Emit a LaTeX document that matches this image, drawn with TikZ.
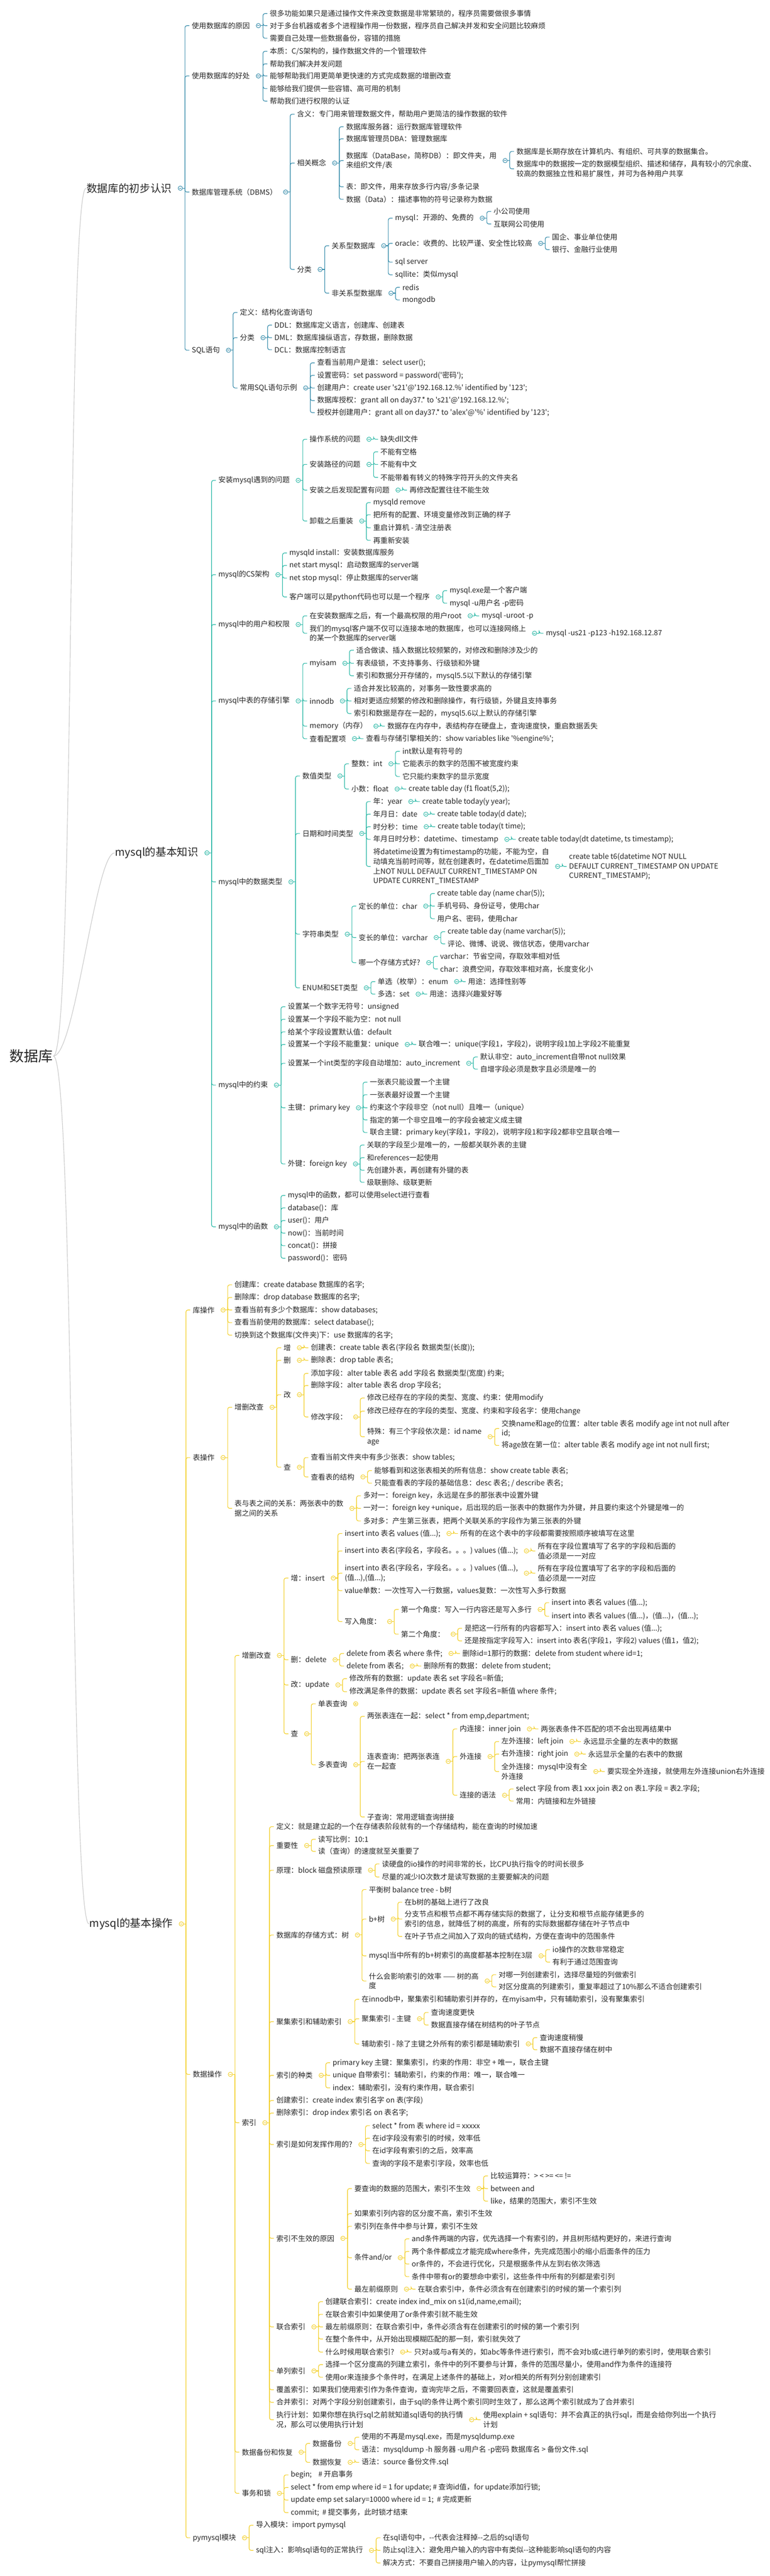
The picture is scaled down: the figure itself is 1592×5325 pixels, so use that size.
\documentclass[tikz,border=0pt]{standalone}
\usepackage{fontspec}
\newfontfamily\zh{Noto Sans CJK SC}
\usetikzlibrary{positioning}

\definecolor{secA}{HTML}{2C86A6}
\definecolor{secB}{HTML}{23B5A3}
\definecolor{secC}{HTML}{F2CD1F}
\definecolor{rootline}{HTML}{C9C9C9}
\definecolor{ink}{HTML}{262626}

\tikzset{
  kid/.style={anchor=west, inner sep=1pt, align=left, text=ink, font={\zh\fontsize{15pt}{20pt}\selectfont}},
  topic/.style={kid, font={\zh\fontsize{22pt}{26pt}\selectfont}},
  hub/.style={kid, font={\zh\fontsize{30pt}{34pt}\selectfont}},
  rootcurve/.style={rootline, line width=1.2pt},
}

% bracket from a parent to its children, with the collapse knob
\newcommand{\fork}[3]{%
  \foreach \k in {#3}{\draw[#1, line width=1.2pt, rounded corners=4pt] ([xshift=26pt]#2.east) |- ([xshift=-4pt]\k.west);}
  \draw[#1, line width=1.2pt] ([xshift=21pt]#2.east) -- ([xshift=26pt]#2.east);
  \draw[#1, line width=1pt, fill=white] ([xshift=16.5pt]#2.east) circle (4.5pt);
  \draw[#1, line width=1pt] ([xshift=14pt]#2.east) -- ([xshift=19pt]#2.east);
}
% collapsed knob
\newcommand{\shut}[2]{%
  \draw[#1, line width=1pt, fill=white] ([xshift=16.5pt]#2.east) circle (4.5pt);
  \draw[#1, line width=1pt] ([xshift=14pt]#2.east) -- ([xshift=19pt]#2.east);
  \draw[#1, line width=1pt] ([xshift=16.5pt,yshift=-2.5pt]#2.east) -- ([xshift=16.5pt,yshift=2.5pt]#2.east);
}

\begin{document}
\begin{tikzpicture}[x=1pt, y=-1pt]
\useasboundingbox (0,0) rectangle (1592,5325);

% root and main branches
\node[hub] (db) at (18,2183) {数据库};
\node[topic] (A) at (178,389) {数据库的初步认识};
\node[topic] (B) at (237,1763) {mysql的基本知识};
\node[topic] (C) at (184,3977) {mysql的基本操作};
\draw[rootcurve] (db.east) .. controls +(45,0) and +(-40,0) .. (A.west);
\draw[rootcurve] (db.east) .. controls +(45,0) and +(-40,0) .. (B.west);
\draw[rootcurve] (db.east) .. controls +(45,0) and +(-40,0) .. (C.west);

% ---------------- 数据库的初步认识
\node[kid, right=39pt of A, yshift=336pt] (a1) {使用数据库的原因};
\node[kid, right=39pt of a1, yshift=25pt] (a11) {很多功能如果只是通过操作文件来改变数据是非常繁琐的，程序员需要做很多事情};
\node[kid, right=39pt of a1] (a12) {对于多台机器或者多个进程操作用一份数据，程序员自己解决并发和安全问题比较麻烦};
\node[kid, right=39pt of a1, yshift=-26pt] (a13) {需要自己处理一些数据备份，容错的措施};
\node[kid, right=39pt of A, yshift=232pt] (a2) {使用数据库的好处};
\node[kid, right=39pt of a2, yshift=51pt] (a21) {本质：C/S架构的，操作数据文件的一个管理软件};
\node[kid, right=39pt of a2, yshift=25pt] (a22) {帮助我们解决并发问题};
\node[kid, right=39pt of a2] (a23) {能够帮助我们用更简单更快速的方式完成数据的增删改查};
\node[kid, right=39pt of a2, yshift=-26pt] (a24) {能够给我们提供一些容错、高可用的机制};
\node[kid, right=39pt of a2, yshift=-52pt] (a25) {帮助我们进行权限的认证};
\node[kid, right=39pt of A, yshift=-8pt] (a3) {数据库管理系统（DBMS）};
\node[kid, right=39pt of a3, yshift=161pt] (a31) {含义：专门用来管理数据文件，帮助用户更简洁的操作数据的软件};
\node[kid, right=39pt of a3, yshift=60pt] (a32) {相关概念};
\node[kid, right=39pt of a32, yshift=75pt] (a321) {数据库服务器：运行数据库管理软件};
\node[kid, right=39pt of a32, yshift=50pt] (a322) {数据库管理员DBA：管理数据库};
\node[kid, right=39pt of a32, yshift=5pt] (a323) {数据库（DataBase，简称DB）：即文件夹，用\\来组织文件/表};
\node[kid, right=39pt of a323, yshift=19pt] (a3231) {数据库是长期存放在计算机内、有组织、可共享的数据集合。};
\node[kid, right=39pt of a323, yshift=-17pt] (a3232) {数据库中的数据按一定的数据模型组织、描述和储存，具有较小的冗余度、\\较高的数据独立性和易扩展性，并可为各种用户共享};
\node[kid, right=39pt of a32, yshift=-49pt] (a324) {表：即文件，用来存放多行内容/多条记录};
\node[kid, right=39pt of a32, yshift=-75pt] (a325) {数据（Data）：描述事物的符号记录称为数据};
\node[kid, right=39pt of a3, yshift=-160pt] (a33) {分类};
\node[kid, right=39pt of a33, yshift=49pt] (a331) {关系型数据库};
\node[kid, right=39pt of a331, yshift=57pt] (a3311) {mysql：开源的、免费的};
\node[kid, right=39pt of a3311, yshift=14pt] (a33111) {小公司使用};
\node[kid, right=39pt of a3311, yshift=-12pt] (a33112) {互联网公司使用};
\node[kid, right=39pt of a331, yshift=5pt] (a3312) {oracle：收费的、比较严谨、安全性比较高};
\node[kid, right=39pt of a3312, yshift=13pt] (a33121) {国企、事业单位使用};
\node[kid, right=39pt of a3312, yshift=-13pt] (a33122) {银行、金融行业使用};
\node[kid, right=39pt of a331, yshift=-34pt] (a3313) {sql server};
\node[kid, right=39pt of a331, yshift=-60pt] (a3314) {sqllite：类似mysql};
\node[kid, right=39pt of a33, yshift=-49pt] (a332) {非关系型数据库};
\node[kid, right=39pt of a332, yshift=12pt] (a3321) {redis};
\node[kid, right=39pt of a332, yshift=-14pt] (a3322) {mongodb};
\node[kid, right=39pt of A, yshift=-335pt] (a4) {SQL语句};
\node[kid, right=39pt of a4, yshift=78pt] (a41) {定义：结构化查询语句};
\node[kid, right=39pt of a4, yshift=26pt] (a42) {分类};
\node[kid, right=39pt of a42, yshift=26pt] (a421) {DDL：数据库定义语言，创建库、创建表};
\node[kid, right=39pt of a42] (a422) {DML：数据库操纵语言，存数据，删除数据};
\node[kid, right=39pt of a42, yshift=-25pt] (a423) {DCL：数据库控制语言};
\node[kid, right=39pt of a4, yshift=-78pt] (a43) {常用SQL语句示例};
\node[kid, right=39pt of a43, yshift=52pt] (a431) {查看当前用户是谁：select user();};
\node[kid, right=39pt of a43, yshift=26pt] (a432) {设置密码：set password = password('密码');};
\node[kid, right=39pt of a43] (a433) {创建用户：create user 's21'@'192.168.12.\%' identified by '123';};
\node[kid, right=39pt of a43, yshift=-26pt] (a434) {数据库授权：grant all on day37.* to 's21'@'192.168.12.\%';};
\node[kid, right=39pt of a43, yshift=-51pt] (a435) {授权并创建用户：grant all on day37.* to 'alex'@'\%' identified by '123';};

\fork{secA}{A}{a1,a2,a3,a4}
\fork{secA}{a1}{a11,a12,a13}
\fork{secA}{a2}{a21,a22,a23,a24,a25}
\fork{secA}{a3}{a31,a32,a33}
\fork{secA}{a32}{a321,a322,a323,a324,a325}
\fork{secA}{a323}{a3231,a3232}
\fork{secA}{a33}{a331,a332}
\fork{secA}{a331}{a3311,a3312,a3313,a3314}
\fork{secA}{a3311}{a33111,a33112}
\fork{secA}{a3312}{a33121,a33122}
\fork{secA}{a332}{a3321,a3322}
\fork{secA}{a4}{a41,a42,a43}
\fork{secA}{a42}{a421,a422,a423}
\fork{secA}{a43}{a431,a432,a433,a434,a435}

% ---------------- mysql的基本知识
\node[kid, right=39pt of B, yshift=770pt] (b1) {安装mysql遇到的问题};
\node[kid, right=39pt of b1, yshift=85pt] (b11) {操作系统的问题};
\node[kid, right=39pt of b11] (b111) {缺失dll文件};
\node[kid, right=39pt of b1, yshift=33pt] (b12) {安装路径的问题};
\node[kid, right=39pt of b12, yshift=26pt] (b121) {不能有空格};
\node[kid, right=39pt of b12] (b122) {不能有中文};
\node[kid, right=39pt of b12, yshift=-27pt] (b123) {不能带着有转义的特殊字符开头的文件夹名};
\node[kid, right=39pt of b1, yshift=-20pt] (b13) {安装之后发现配置有问题};
\node[kid, right=39pt of b13] (b131) {再修改配置往往不能生效};
\node[kid, right=39pt of b1, yshift=-84pt] (b14) {卸载之后重装};
\node[kid, right=39pt of b14, yshift=38pt] (b141) {mysqld remove};
\node[kid, right=39pt of b14, yshift=13pt] (b142) {把所有的配置、环境变量修改到正确的样子};
\node[kid, right=39pt of b14, yshift=-14pt] (b143) {重启计算机 - 清空注册表};
\node[kid, right=39pt of b14, yshift=-40pt] (b144) {再重新安装};
\node[kid, right=39pt of B, yshift=575pt] (b2) {mysql的CS架构};
\node[kid, right=39pt of b2, yshift=45pt] (b21) {mysqld install：安装数据库服务};
\node[kid, right=39pt of b2, yshift=19pt] (b22) {net start mysql：启动数据库的server端};
\node[kid, right=39pt of b2, yshift=-7pt] (b23) {net stop mysql：停止数据库的server端};
\node[kid, right=39pt of b2, yshift=-46pt] (b24) {客户端可以是python代码也可以是一个程序};
\node[kid, right=39pt of b24, yshift=13pt] (b241) {mysql.exe是一个客户端};
\node[kid, right=39pt of b24, yshift=-13pt] (b242) {mysql -u用户名 -p密码};
\node[kid, right=39pt of B, yshift=472pt] (b3) {mysql中的用户和权限};
\node[kid, right=39pt of b3, yshift=18pt] (b31) {在安装数据库之后，有一个最高权限的用户root};
\node[kid, right=39pt of b31] (b311) {mysql -uroot -p};
\node[kid, right=39pt of b3, yshift=-18pt] (b32) {我们的mysql客户端不仅可以连接本地的数据库，也可以连接网络上\\的某一个数据库的server端};
\node[kid, right=39pt of b32] (b321) {mysql -us21 -p123 -h192.168.12.87};
\node[kid, right=39pt of B, yshift=314pt] (b4) {mysql中表的存储引擎};
\node[kid, right=39pt of b4, yshift=78pt] (b41) {myisam};
\node[kid, right=39pt of b41, yshift=27pt] (b411) {适合做读、插入数据比较频繁的，对修改和删除涉及少的};
\node[kid, right=39pt of b41] (b412) {有表级锁，不支持事务、行级锁和外键};
\node[kid, right=39pt of b41, yshift=-26pt] (b413) {索引和数据分开存储的，mysql5.5以下默认的存储引擎};
\node[kid, right=39pt of b4] (b42) {innodb};
\node[kid, right=39pt of b42, yshift=26pt] (b421) {适合并发比较高的，对事务一致性要求高的};
\node[kid, right=39pt of b42] (b422) {相对更适应频繁的修改和删除操作，有行级锁，外键且支持事务};
\node[kid, right=39pt of b42, yshift=-26pt] (b423) {索引和数据是存在一起的，mysql5.6以上默认的存储引擎};
\node[kid, right=39pt of b4, yshift=-52pt] (b43) {memory（内存）};
\node[kid, right=39pt of b43] (b431) {数据存在内存中，表结构存在硬盘上，查询速度快，重启数据丢失};
\node[kid, right=39pt of b4, yshift=-78pt] (b44) {查看配置项};
\node[kid, right=39pt of b44] (b441) {查看与存储引擎相关的：show variables like '\%engine\%';};
\node[kid, right=39pt of B, yshift=-60pt] (b5) {mysql中的数据类型};
\node[kid, right=39pt of b5, yshift=219pt] (b51) {数值类型};
\node[kid, right=39pt of b51, yshift=25pt] (b511) {整数：int};
\node[kid, right=39pt of b511, yshift=26pt] (b5111) {int默认是有符号的};
\node[kid, right=39pt of b511] (b5112) {它能表示的数字的范围不被宽度约束};
\node[kid, right=39pt of b511, yshift=-26pt] (b5113) {它只能约束数字的显示宽度};
\node[kid, right=39pt of b51, yshift=-27pt] (b512) {小数：float};
\node[kid, right=39pt of b512] (b5121) {create table day (f1 float(5,2));};
\node[kid, right=39pt of b5, yshift=100pt] (b52) {日期和时间类型};
\node[kid, right=39pt of b52, yshift=66pt] (b521) {年：year};
\node[kid, right=39pt of b521] (b5211) {create table today(y year);};
\node[kid, right=39pt of b52, yshift=40pt] (b522) {年月日：date};
\node[kid, right=39pt of b522] (b5221) {create table today(d date);};
\node[kid, right=39pt of b52, yshift=14pt] (b523) {时分秒：time};
\node[kid, right=39pt of b523] (b5231) {create table today(t time);};
\node[kid, right=39pt of b52, yshift=-12pt] (b524) {年月日时分秒：datetime、timestamp};
\node[kid, right=39pt of b524] (b5241) {create table today(dt datetime, ts timestamp);};
\node[kid, right=39pt of b52, yshift=-68pt] (b525) {将datetime设置为有timestamp的功能，不能为空，自\\动填充当前时间等，就在创建表时，在datetime后面加\\上NOT NULL DEFAULT CURRENT\_TIMESTAMP ON\\UPDATE CURRENT\_TIMESTAMP};
\node[kid, right=39pt of b525] (b5251) {create table t6(datetime NOT NULL\\DEFAULT CURRENT\_TIMESTAMP ON UPDATE\\CURRENT\_TIMESTAMP);};
\node[kid, right=39pt of b5, yshift=-108pt] (b53) {字符串类型};
\node[kid, right=39pt of b53, yshift=58pt] (b531) {定长的单位：char};
\node[kid, right=39pt of b531, yshift=26pt] (b5311) {create table day (name char(5));};
\node[kid, right=39pt of b531] (b5312) {手机号码、身份证号，使用char};
\node[kid, right=39pt of b531, yshift=-26pt] (b5313) {用户名、密码，使用char};
\node[kid, right=39pt of b53, yshift=-7pt] (b532) {变长的单位：varchar};
\node[kid, right=39pt of b532, yshift=12pt] (b5321) {create table day (name varchar(5));};
\node[kid, right=39pt of b532, yshift=-13pt] (b5322) {评论、微博、说说、微信状态，使用varchar};
\node[kid, right=39pt of b53, yshift=-59pt] (b533) {哪一个存储方式好?};
\node[kid, right=39pt of b533, yshift=13pt] (b5331) {varchar：节省空间，存取效率相对低};
\node[kid, right=39pt of b533, yshift=-13pt] (b5332) {char：浪费空间，存取效率相对高，长度变化小};
\node[kid, right=39pt of b5, yshift=-219pt] (b54) {ENUM和SET类型};
\node[kid, right=39pt of b54, yshift=13pt] (b541) {单选（枚举）：enum};
\node[kid, right=39pt of b541] (b5411) {用途：选择性别等};
\node[kid, right=39pt of b54, yshift=-13pt] (b542) {多选：set};
\node[kid, right=39pt of b542] (b5421) {用途：选择兴趣爱好等};
\node[kid, right=39pt of B, yshift=-480pt] (b6) {mysql中的约束};
\node[kid, right=39pt of b6, yshift=162pt] (b61) {设置某一个数字无符号：unsigned};
\node[kid, right=39pt of b6, yshift=136pt] (b62) {设置某一个字段不能为空：not null};
\node[kid, right=39pt of b6, yshift=110pt] (b63) {给某个字段设置默认值：default};
\node[kid, right=39pt of b6, yshift=84pt] (b64) {设置某一个字段不能重复：unique};
\node[kid, right=39pt of b64] (b641) {联合唯一：unique(字段1，字段2)，说明字段1加上字段2不能重复};
\node[kid, right=39pt of b6, yshift=45pt] (b65) {设置某一个int类型的字段自动增加：auto\_increment};
\node[kid, right=39pt of b65, yshift=13pt] (b651) {默认非空：auto\_increment自带not null效果};
\node[kid, right=39pt of b65, yshift=-12pt] (b652) {自增字段必须是数字且必须是唯一的};
\node[kid, right=39pt of b6, yshift=-47pt] (b66) {主键：primary key};
\node[kid, right=39pt of b66, yshift=53pt] (b661) {一张表只能设置一个主键};
\node[kid, right=39pt of b66, yshift=27pt] (b662) {一张表最好设置一个主键};
\node[kid, right=39pt of b66] (b663) {约束这个字段非空（not null）且唯一（unique）};
\node[kid, right=39pt of b66, yshift=-25pt] (b664) {指定的第一个非空且唯一的字段会被定义成主键};
\node[kid, right=39pt of b66, yshift=-51pt] (b665) {联合主键：primary key(字段1，字段2)，说明字段1和字段2都非空且联合唯一};
\node[kid, right=39pt of b6, yshift=-163pt] (b67) {外键：foreign key};
\node[kid, right=39pt of b67, yshift=39pt] (b671) {关联的字段至少是唯一的，一般都关联外表的主键};
\node[kid, right=39pt of b67, yshift=13pt] (b672) {和references一起使用};
\node[kid, right=39pt of b67, yshift=-13pt] (b673) {先创建外表，再创建有外键的表};
\node[kid, right=39pt of b67, yshift=-38pt] (b674) {级联删除、级联更新};
\node[kid, right=39pt of B, yshift=-773pt] (b7) {mysql中的函数};
\node[kid, right=39pt of b7, yshift=65pt] (b71) {mysql中的函数，都可以使用select进行查看};
\node[kid, right=39pt of b7, yshift=39pt] (b72) {database()：库};
\node[kid, right=39pt of b7, yshift=13pt] (b73) {user()：用户};
\node[kid, right=39pt of b7, yshift=-13pt] (b74) {now()：当前时间};
\node[kid, right=39pt of b7, yshift=-39pt] (b75) {concat()：拼接};
\node[kid, right=39pt of b7, yshift=-65pt] (b76) {password()：密码};

\fork{secB}{B}{b1,b2,b3,b4,b5,b6,b7}
\fork{secB}{b1}{b11,b12,b13,b14}
\fork{secB}{b11}{b111}
\fork{secB}{b12}{b121,b122,b123}
\fork{secB}{b13}{b131}
\fork{secB}{b14}{b141,b142,b143,b144}
\fork{secB}{b2}{b21,b22,b23,b24}
\fork{secB}{b24}{b241,b242}
\fork{secB}{b3}{b31,b32}
\fork{secB}{b31}{b311}
\fork{secB}{b32}{b321}
\fork{secB}{b4}{b41,b42,b43,b44}
\fork{secB}{b41}{b411,b412,b413}
\fork{secB}{b42}{b421,b422,b423}
\fork{secB}{b43}{b431}
\fork{secB}{b44}{b441}
\fork{secB}{b5}{b51,b52,b53,b54}
\fork{secB}{b51}{b511,b512}
\fork{secB}{b511}{b5111,b5112,b5113}
\fork{secB}{b512}{b5121}
\fork{secB}{b52}{b521,b522,b523,b524,b525}
\fork{secB}{b521}{b5211}
\fork{secB}{b522}{b5221}
\fork{secB}{b523}{b5231}
\fork{secB}{b524}{b5241}
\fork{secB}{b525}{b5251}
\fork{secB}{b53}{b531,b532,b533}
\fork{secB}{b531}{b5311,b5312,b5313}
\fork{secB}{b532}{b5321,b5322}
\fork{secB}{b533}{b5331,b5332}
\fork{secB}{b54}{b541,b542}
\fork{secB}{b541}{b5411}
\fork{secB}{b542}{b5421}
\fork{secB}{b6}{b61,b62,b63,b64,b65,b66,b67}
\fork{secB}{b64}{b641}
\fork{secB}{b65}{b651,b652}
\fork{secB}{b66}{b661,b662,b663,b664,b665}
\fork{secB}{b67}{b671,b672,b673,b674}
\fork{secB}{b7}{b71,b72,b73,b74,b75,b76}

% ---------------- mysql的基本操作
\node[kid, right=39pt of C, yshift=1269pt] (c1) {库操作};
\node[kid, right=39pt of c1, yshift=52pt] (c11) {创建库：create database 数据库的名字;};
\node[kid, right=39pt of c1, yshift=26pt] (c12) {删除库：drop database 数据库的名字;};
\node[kid, right=39pt of c1] (c13) {查看当前有多少个数据库：show databases;};
\node[kid, right=39pt of c1, yshift=-26pt] (c14) {查看当前使用的数据库：select database();};
\node[kid, right=39pt of c1, yshift=-52pt] (c15) {切换到这个数据库(文件夹)下：use 数据库的名字;};
\node[kid, right=39pt of C, yshift=964pt] (c2) {表操作};
\node[kid, right=39pt of c2, yshift=104pt] (c21) {增删改查};
\node[kid, right=39pt of c21, yshift=123pt] (c211) {增};
\node[kid, right=39pt of c211] (c2111) {创建表：create table 表名(字段名 数据类型(长度));};
\node[kid, right=39pt of c21, yshift=97pt] (c212) {删};
\node[kid, right=39pt of c212] (c2121) {删除表：drop table 表名;};
\node[kid, right=39pt of c21, yshift=26pt] (c213) {改};
\node[kid, right=39pt of c213, yshift=44pt] (c2131) {添加字段：alter table 表名 add 字段名 数据类型(宽度) 约束;};
\node[kid, right=39pt of c213, yshift=19pt] (c2132) {删除字段：alter table 表名 drop 字段名;};
\node[kid, right=39pt of c213, yshift=-46pt] (c2133) {修改字段：};
\node[kid, right=39pt of c2133, yshift=39pt] (c21331) {修改已经存在的字段的类型、宽度、约束：使用modify};
\node[kid, right=39pt of c2133, yshift=12pt] (c21332) {修改已经存在的字段的类型、宽度、约束和字段名字：使用change};
\node[kid, right=39pt of c2133, yshift=-41pt] (c21333) {特殊：有三个字段依次是：id name\\age};
\node[kid, right=39pt of c21333, yshift=17pt] (c213331) {交换name和age的位置：alter table 表名 modify age int not null after\\id;};
\node[kid, right=39pt of c21333, yshift=-18pt] (c213332) {将age放在第一位：alter table 表名 modify age int not null first;};
\node[kid, right=39pt of c21, yshift=-124pt] (c214) {查};
\node[kid, right=39pt of c214, yshift=20pt] (c2141) {查看当前文件夹中有多少张表：show tables;};
\node[kid, right=39pt of c214, yshift=-20pt] (c2142) {查看表的结构};
\node[kid, right=39pt of c2142, yshift=13pt] (c21421) {能够看到和这张表相关的所有信息：show create table 表名;};
\node[kid, right=39pt of c2142, yshift=-13pt] (c21422) {只能查看表的字段的基础信息：desc 表名; / describe 表名;};
\node[kid, right=39pt of c2, yshift=-105pt] (c22) {表与表之间的关系：两张表中的数\\据之间的关系};
\node[kid, right=39pt of c22, yshift=26pt] (c221) {多对一：foreign key，永远是在多的那张表中设置外键};
\node[kid, right=39pt of c22] (c222) {一对一：foreign key +unique，后出现的后一张表中的数据作为外键，并且要约束这个外键是唯一的};
\node[kid, right=39pt of c22, yshift=-26pt] (c223) {多对多：产生第三张表，把两个关联关系的字段作为第三张表的外键};
\node[kid, right=39pt of C, yshift=-311pt] (c3) {数据操作};
\node[kid, right=39pt of c3, yshift=866pt] (c31) {增删改查};
\node[kid, right=39pt of c31, yshift=160pt] (c311) {增：insert};
\node[kid, right=39pt of c311, yshift=92pt] (c3111) {insert into 表名 values (值...);};
\node[kid, right=39pt of c3111] (c31111) {所有的在这个表中的字段都需要按照顺序被填写在这里};
\node[kid, right=39pt of c311, yshift=56pt] (c3112) {insert into 表名(字段名，字段名。。。) values (值...);};
\node[kid, right=39pt of c3112] (c31121) {所有在字段位置填写了名字的字段和后面的\\值必须是一一对应};
\node[kid, right=39pt of c311, yshift=10pt] (c3113) {insert into 表名(字段名，字段名。。。) values (值...),\\(值...),(值...);};
\node[kid, right=39pt of c3113] (c31131) {所有在字段位置填写了名字的字段和后面的\\值必须是一一对应};
\node[kid, right=39pt of c311, yshift=-26pt] (c3114) {value单数：一次性写入一行数据，values复数：一次性写入多行数据};
\node[kid, right=39pt of c311, yshift=-90pt] (c3115) {写入角度：};
\node[kid, right=39pt of c3115, yshift=25pt] (c31151) {第一个角度：写入一行内容还是写入多行};
\node[kid, right=39pt of c31151, yshift=14pt] (c311511) {insert into 表名 values (值...);};
\node[kid, right=39pt of c31151, yshift=-14pt] (c311512) {insert into 表名 values (值...)，(值...)，(值...);};
\node[kid, right=39pt of c3115, yshift=-26pt] (c31152) {第二个角度：};
\node[kid, right=39pt of c31152, yshift=12pt] (c311521) {是把这一行所有的内容都写入：insert into 表名 values (值...);};
\node[kid, right=39pt of c31152, yshift=-14pt] (c311522) {还是按指定字段写入：insert into 表名(字段1，字段2) values (值1，值2);};
\node[kid, right=39pt of c31, yshift=-9pt] (c312) {删：delete};
\node[kid, right=39pt of c312, yshift=13pt] (c3121) {delete from 表名 where 条件;};
\node[kid, right=39pt of c3121] (c31211) {删除id=1那行的数据：delete from student where id=1;};
\node[kid, right=39pt of c312, yshift=-13pt] (c3122) {delete from 表名;};
\node[kid, right=39pt of c3122] (c31221) {删除所有的数据：delete from student;};
\node[kid, right=39pt of c31, yshift=-61pt] (c313) {改：update};
\node[kid, right=39pt of c313, yshift=13pt] (c3131) {修改所有的数据：update 表名 set 字段名=新值;};
\node[kid, right=39pt of c313, yshift=-14pt] (c3132) {修改满足条件的数据：update 表名 set 字段名=新值 where 条件;};
\node[kid, right=39pt of c31, yshift=-162pt] (c314) {查};
\node[kid, right=39pt of c314, yshift=62pt] (c3141) {单表查询};
\node[kid, right=39pt of c314, yshift=-64pt] (c3142) {多表查询};
\node[kid, right=39pt of c3142, yshift=100pt] (c31421) {两张表连在一起：select * from emp,department;};
\node[kid, right=39pt of c3142, yshift=7pt] (c31422) {连表查询：把两张表连\\在一起查};
\node[kid, right=39pt of c31422, yshift=67pt] (c314221) {内连接：inner join};
\node[kid, right=39pt of c314221] (c3142211) {两张表条件不匹配的项不会出现再结果中};
\node[kid, right=39pt of c31422, yshift=10pt] (c314222) {外连接};
\node[kid, right=39pt of c314222, yshift=31pt] (c3142221) {左外连接：left join};
\node[kid, right=39pt of c3142221] (c31422211) {永远显示全量的左表中的数据};
\node[kid, right=39pt of c314222, yshift=5pt] (c3142222) {右外连接：right join};
\node[kid, right=39pt of c3142222] (c31422221) {永远显示全量的右表中的数据};
\node[kid, right=39pt of c314222, yshift=-31pt] (c3142223) {全外连接：mysql中没有全\\外连接};
\node[kid, right=39pt of c3142223] (c31422231) {要实现全外连接，就使用左外连接union右外连接};
\node[kid, right=39pt of c31422, yshift=-70pt] (c314223) {连接的语法};
\node[kid, right=39pt of c314223, yshift=13pt] (c3142231) {select 字段 from 表1 xxx join 表2 on 表1.字段 = 表2.字段;};
\node[kid, right=39pt of c314223, yshift=-12pt] (c3142232) {常用：内链接和左外链接};
\node[kid, right=39pt of c3142, yshift=-108pt] (c31423) {子查询：常用逻辑查询拼接};
\node[kid, right=39pt of c3, yshift=-100pt] (c32) {索引};
\node[kid, right=39pt of c32, yshift=612pt] (c321) {定义：就是建立起的一个在存储表阶段就有的一个存储结构，能在查询的时候加速};
\node[kid, right=39pt of c32, yshift=573pt] (c322) {重要性};
\node[kid, right=39pt of c322, yshift=13pt] (c3221) {读写比例：10:1};
\node[kid, right=39pt of c322, yshift=-12pt] (c3222) {读（查询）的速度就至关重要了};
\node[kid, right=39pt of c32, yshift=522pt] (c323) {原理：block 磁盘预读原理};
\node[kid, right=39pt of c323, yshift=13pt] (c3231) {读硬盘的io操作的时间非常的长，比CPU执行指令的时间长很多};
\node[kid, right=39pt of c323, yshift=-14pt] (c3232) {尽量的减少IO次数才是读写数据的主要要解决的问题};
\node[kid, right=39pt of c32, yshift=388pt] (c324) {数据库的存储方式：树};
\node[kid, right=39pt of c324, yshift=94pt] (c3241) {平衡树 balance tree - b树};
\node[kid, right=39pt of c324, yshift=33pt] (c3242) {b+树};
\node[kid, right=39pt of c3242, yshift=35pt] (c32421) {在b树的基础上进行了改良};
\node[kid, right=39pt of c3242] (c32422) {分支节点和根节点都不再存储实际的数据了，让分支和根节点能存储更多的\\索引的信息，就降低了树的高度，所有的实际数据都存储在叶子节点中};
\node[kid, right=39pt of c3242, yshift=-36pt] (c32423) {在叶子节点之间加入了双向的链式结构，方便在查询中的范围条件};
\node[kid, right=39pt of c324, yshift=-43pt] (c3243) {mysql当中所有的b+树索引的高度都基本控制在3层};
\node[kid, right=39pt of c3243, yshift=13pt] (c32431) {io操作的次数非常稳定};
\node[kid, right=39pt of c3243, yshift=-13pt] (c32432) {有利于通过范围查询};
\node[kid, right=39pt of c324, yshift=-95pt] (c3244) {什么会影响索引的效率 —— 树的高\\度};
\node[kid, right=39pt of c3244, yshift=13pt] (c32441) {对哪一列创建索引，选择尽量短的列做索引};
\node[kid, right=39pt of c3244, yshift=-12pt] (c32442) {对区分度高的列建索引，重复率超过了10\%那么不适合创建索引};
\node[kid, right=39pt of c32, yshift=209pt] (c325) {聚集索引和辅助索引};
\node[kid, right=39pt of c325, yshift=46pt] (c3251) {在innodb中，聚集索引和辅助索引并存的，在myisam中，只有辅助索引，没有聚集索引};
\node[kid, right=39pt of c325, yshift=6pt] (c3252) {聚集索引 - 主键};
\node[kid, right=39pt of c3252, yshift=13pt] (c32521) {查询速度更快};
\node[kid, right=39pt of c3252, yshift=-13pt] (c32522) {数据直接存储在树结构的叶子节点};
\node[kid, right=39pt of c325, yshift=-46pt] (c3253) {辅助索引 - 除了主键之外所有的索引都是辅助索引};
\node[kid, right=39pt of c3253, yshift=13pt] (c32531) {查询速度稍慢};
\node[kid, right=39pt of c3253, yshift=-12pt] (c32532) {数据不直接存储在树中};
\node[kid, right=39pt of c32, yshift=98pt] (c326) {索引的种类};
\node[kid, right=39pt of c326, yshift=26pt] (c3261) {primary key 主键：聚集索引，约束的作用：非空 + 唯一，联合主键};
\node[kid, right=39pt of c326] (c3262) {unique 自带索引：辅助索引，约束的作用：唯一，联合唯一};
\node[kid, right=39pt of c326, yshift=-26pt] (c3263) {index：辅助索引，没有约束作用，联合索引};
\node[kid, right=39pt of c32, yshift=46pt] (c327) {创建索引：create index 索引名字 on 表(字段)};
\node[kid, right=39pt of c32, yshift=20pt] (c328) {删除索引：drop index 索引名 on 表名字;};
\node[kid, right=39pt of c32, yshift=-45pt] (c329) {索引是如何发挥作用的?};
\node[kid, right=39pt of c329, yshift=39pt] (c3291) {select * from 表 where id = xxxxx};
\node[kid, right=39pt of c329, yshift=13pt] (c3292) {在id字段没有索引的时候，效率低};
\node[kid, right=39pt of c329, yshift=-13pt] (c3293) {在id字段有索引的之后，效率高};
\node[kid, right=39pt of c329, yshift=-39pt] (c3294) {查询的字段不是索引字段，效率也低};
\node[kid, right=39pt of c32, yshift=-239pt] (cx) {索引不生效的原因};
\node[kid, right=39pt of cx, yshift=103pt] (ca1) {要查询的数据的范围大，索引不生效};
\node[kid, right=39pt of ca1, yshift=26pt] (ca11) {比较运算符：> < >= <= !=};
\node[kid, right=39pt of ca1] (ca12) {between and};
\node[kid, right=39pt of ca1, yshift=-26pt] (ca13) {like，结果的范围大，索引不生效};
\node[kid, right=39pt of cx, yshift=51pt] (ca2) {如果索引列内容的区分度不高，索引不生效};
\node[kid, right=39pt of cx, yshift=25pt] (ca3) {索引列在条件中参与计算，索引不生效};
\node[kid, right=39pt of cx, yshift=-40pt] (ca4) {条件and/or};
\node[kid, right=39pt of ca4, yshift=39pt] (ca41) {and条件两端的内容，优先选择一个有索引的，并且树形结构更好的，来进行查询};
\node[kid, right=39pt of ca4, yshift=13pt] (ca42) {两个条件都成立才能完成where条件，先完成范围小的缩小后面条件的压力};
\node[kid, right=39pt of ca4, yshift=-13pt] (ca43) {or条件的，不会进行优化，只是根据条件从左到右依次筛选};
\node[kid, right=39pt of ca4, yshift=-39pt] (ca44) {条件中带有or的要想命中索引，这些条件中所有的列都是索引列};
\node[kid, right=39pt of cx, yshift=-105pt] (ca5) {最左前缀原则};
\node[kid, right=39pt of ca5] (ca51) {在联合索引中，条件必须含有在创建索引的时候的第一个索引列};
\node[kid, right=39pt of c32, yshift=-422pt] (cy) {联合索引};
\node[kid, right=39pt of cy, yshift=52pt] (cb1) {创建联合索引：create index ind\_mix on s1(id,name,email);};
\node[kid, right=39pt of cy, yshift=26pt] (cb2) {在联合索引中如果使用了or条件索引就不能生效};
\node[kid, right=39pt of cy] (cb3) {最左前缀原则：在联合索引中，条件必须含有在创建索引的时候的第一个索引列};
\node[kid, right=39pt of cy, yshift=-25pt] (cb4) {在整个条件中，从开始出现模糊匹配的那一刻，索引就失效了};
\node[kid, right=39pt of cy, yshift=-52pt] (cb5) {什么时候用联合索引?};
\node[kid, right=39pt of cb5] (cb51) {只对a或与a有关的，如abc等条件进行索引，而不会对b或c进行单列的索引时，使用联合索引};
\node[kid, right=39pt of c32, yshift=-513pt] (cz) {单列索引};
\node[kid, right=39pt of cz, yshift=13pt] (cc1) {选择一个区分度高的列建立索引，条件中的列不要参与计算，条件的范围尽量小，使用and作为条件的连接符};
\node[kid, right=39pt of cz, yshift=-13pt] (cc2) {使用or来连接多个条件时，在满足上述条件的基础上，对or相关的所有列分别创建索引};
\node[kid, right=39pt of c32, yshift=-552pt] (cv) {覆盖索引：如果我们使用索引作为条件查询，查询完毕之后，不需要回表查，这就是覆盖索引};
\node[kid, right=39pt of c32, yshift=-578pt] (cw) {合并索引：对两个字段分别创建索引，由于sql的条件让两个索引同时生效了，那么这两个索引就成为了合并索引};
\node[kid, right=39pt of c32, yshift=-614pt] (cp) {执行计划：如果你想在执行sql之前就知道sql语句的执行情\\况，那么可以使用执行计划};
\node[kid, right=39pt of cp] (cd1) {使用explain + sql语句：并不会真正的执行sql，而是会给你列出一个执行\\计划};
\node[kid, right=39pt of c3, yshift=-781pt] (c33) {数据备份和恢复};
\node[kid, right=39pt of c33, yshift=18pt] (c331) {数据备份};
\node[kid, right=39pt of c331, yshift=13pt] (c3311) {使用的不再是mysql.exe，而是mysqldump.exe};
\node[kid, right=39pt of c331, yshift=-13pt] (c3312) {语法：mysqldump -h 服务器 -u用户名 -p密码 数据库名 > 备份文件.sql};
\node[kid, right=39pt of c33, yshift=-21pt] (c332) {数据恢复};
\node[kid, right=39pt of c332] (c3321) {语法：source 备份文件.sql};
\node[kid, right=39pt of c3, yshift=-866pt] (c34) {事务和锁};
\node[kid, right=39pt of c34, yshift=38pt] (c341) {begin;~~~~\# 开启事务};
\node[kid, right=39pt of c34, yshift=12pt] (c342) {select * from emp where id = 1 for update; \# 查询id值，for update添加行锁;};
\node[kid, right=39pt of c34, yshift=-14pt] (c343) {update emp set salary=10000 where id = 1;~~\# 完成更新};
\node[kid, right=39pt of c34, yshift=-40pt] (c344) {commit;~~\# 提交事务，此时锁才结束};
\node[kid, right=39pt of C, yshift=-1269pt] (c4) {pymysql模块};
\node[kid, right=39pt of c4, yshift=26pt] (c41) {导入模块：import pymysql};
\node[kid, right=39pt of c4, yshift=-26pt] (c42) {sql注入：影响sql语句的正常执行};
\node[kid, right=39pt of c42, yshift=26pt] (c421) {在sql语句中，--代表会注释掉--之后的sql语句};
\node[kid, right=39pt of c42] (c422) {防止sql注入：避免用户输入的内容中有类似--这种能影响sql语句的内容};
\node[kid, right=39pt of c42, yshift=-26pt] (c423) {解决方式：不要自己拼接用户输入的内容，让pymysql帮忙拼接};

\fork{secC}{C}{c1,c2,c3,c4}
\fork{secC}{c1}{c11,c12,c13,c14,c15}
\fork{secC}{c2}{c21,c22}
\fork{secC}{c21}{c211,c212,c213,c214}
\fork{secC}{c211}{c2111}
\fork{secC}{c212}{c2121}
\fork{secC}{c213}{c2131,c2132,c2133}
\fork{secC}{c2133}{c21331,c21332,c21333}
\fork{secC}{c21333}{c213331,c213332}
\fork{secC}{c214}{c2141,c2142}
\fork{secC}{c2142}{c21421,c21422}
\fork{secC}{c22}{c221,c222,c223}
\fork{secC}{c3}{c31,c32,c33,c34}
\fork{secC}{c31}{c311,c312,c313,c314}
\fork{secC}{c311}{c3111,c3112,c3113,c3114,c3115}
\fork{secC}{c3111}{c31111}
\fork{secC}{c3112}{c31121}
\fork{secC}{c3113}{c31131}
\fork{secC}{c3115}{c31151,c31152}
\fork{secC}{c31151}{c311511,c311512}
\fork{secC}{c31152}{c311521,c311522}
\fork{secC}{c312}{c3121,c3122}
\fork{secC}{c3121}{c31211}
\fork{secC}{c3122}{c31221}
\fork{secC}{c313}{c3131,c3132}
\fork{secC}{c314}{c3141,c3142}
\shut{secC}{c3141}
\fork{secC}{c3142}{c31421,c31422,c31423}
\fork{secC}{c31422}{c314221,c314222,c314223}
\fork{secC}{c314221}{c3142211}
\fork{secC}{c314222}{c3142221,c3142222,c3142223}
\fork{secC}{c3142221}{c31422211}
\fork{secC}{c3142222}{c31422221}
\fork{secC}{c3142223}{c31422231}
\fork{secC}{c314223}{c3142231,c3142232}
\fork{secC}{c32}{c321,c322,c323,c324,c325,c326,c327,c328,c329,cx,cy,cz,cv,cw,cp}
\fork{secC}{c322}{c3221,c3222}
\fork{secC}{c323}{c3231,c3232}
\fork{secC}{c324}{c3241,c3242,c3243,c3244}
\fork{secC}{c3242}{c32421,c32422,c32423}
\fork{secC}{c3243}{c32431,c32432}
\fork{secC}{c3244}{c32441,c32442}
\fork{secC}{c325}{c3251,c3252,c3253}
\fork{secC}{c3252}{c32521,c32522}
\fork{secC}{c3253}{c32531,c32532}
\fork{secC}{c326}{c3261,c3262,c3263}
\fork{secC}{c329}{c3291,c3292,c3293,c3294}
\fork{secC}{cx}{ca1,ca2,ca3,ca4,ca5}
\fork{secC}{ca1}{ca11,ca12,ca13}
\fork{secC}{ca4}{ca41,ca42,ca43,ca44}
\fork{secC}{ca5}{ca51}
\fork{secC}{cy}{cb1,cb2,cb3,cb4,cb5}
\fork{secC}{cb5}{cb51}
\fork{secC}{cz}{cc1,cc2}
\fork{secC}{cp}{cd1}
\fork{secC}{c33}{c331,c332}
\fork{secC}{c331}{c3311,c3312}
\fork{secC}{c332}{c3321}
\fork{secC}{c34}{c341,c342,c343,c344}
\fork{secC}{c4}{c41,c42}
\fork{secC}{c42}{c421,c422,c423}
\end{tikzpicture}
\end{document}
